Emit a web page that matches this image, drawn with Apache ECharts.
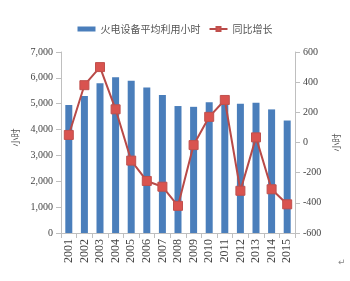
<!DOCTYPE html>
<html>
<head>
<meta charset="utf-8">
<script src="https://cdn.jsdelivr.net/npm/echarts@6/dist/echarts.min.js"></script>
<style>
  html, body { margin: 0; padding: 0; background: #fff; }
  #chart { width: 350px; height: 281px; }
</style>
</head>
<body>
<div id="chart"></div>
<script>
const years = ["2001", "2002", "2003", "2004", "2005", "2006", "2007", "2008",
  "2009", "2010", "2011", "2012", "2013", "2014", "2015"];
const hours = [4950, 5300, 5790, 6020, 5890, 5630, 5340, 4910, 4880, 5060, 5290, 5000, 5040, 4780, 4350];
const growth = [50, 380, 500, 220, -120, -255, -293, -420, -17, 170, 282, -320, 34, -310, -410];
const leftTicks = [0, 7000];
const rightTicks = [-600, 600];

const serif = "Liberation Serif";
const cjk = "Noto Sans CJK SC";

const chart = echarts.init(document.getElementById("chart"));
const option = {
  animation: false,
  backgroundColor: "#fff",
  legend: {
    top: 19,
    left: "center",
    itemGap: 8,
    itemWidth: 18,
    itemHeight: 5,
    textStyle: { fontFamily: cjk, fontSize: 10, color: "#555" },
    data: [
      { name: "火电设备平均利用小时", icon: "rect" },
      { name: "同比增长" }
    ]
  },
  grid: { left: 61, right: 55, top: 52, bottom: 48 },
  xAxis: {
    type: "category",
    data: years,
    axisLine: { lineStyle: { color: "#bfbfbf" } },
    axisTick: { show: true, lineStyle: { color: "#bfbfbf" } },
    axisLabel: {
      rotate: 90,
      interval: 0,
      fontFamily: serif,
      fontSize: 12,
      color: "#444",
      margin: 6
    }
  },
  yAxis: [
    {
      type: "value",
      min: leftTicks[0],
      max: leftTicks[1],
      interval: 1000,
      name: "小时",
      nameLocation: "middle",
      nameGap: 28,
      nameRotate: 90,
      nameTextStyle: { fontFamily: cjk, fontSize: 9, color: "#555", padding: [0, 0, 0, 10] },
      axisLine: { show: true, lineStyle: { color: "#bfbfbf" } },
      axisTick: { show: true, lineStyle: { color: "#bfbfbf" } },
      splitLine: { show: false },
      axisLabel: {
        fontFamily: serif,
        fontSize: 10,
        color: "#444",
        formatter: v => v.toLocaleString("en-US")
      }
    },
    {
      type: "value",
      min: rightTicks[0],
      max: rightTicks[1],
      interval: 200,
      name: "小时",
      nameLocation: "middle",
      nameGap: 26,
      nameRotate: 90,
      nameTextStyle: { fontFamily: cjk, fontSize: 9, color: "#555" },
      axisLine: { show: true, lineStyle: { color: "#bfbfbf" } },
      axisTick: { show: true, lineStyle: { color: "#bfbfbf" } },
      splitLine: { show: false },
      axisLabel: { fontFamily: serif, fontSize: 10, color: "#444" }
    }
  ],
  series: [
    {
      name: "火电设备平均利用小时",
      type: "bar",
      yAxisIndex: 0,
      data: hours,
      barWidth: 7,
      itemStyle: { color: "#4a7ebb" }
    },
    {
      name: "同比增长",
      type: "line",
      yAxisIndex: 1,
      data: growth,
      symbol: "rect",
      symbolSize: 9,
      lineStyle: { color: "#b84a48", width: 2 },
      itemStyle: { color: "#d9534f", borderColor: "#c0504d", borderWidth: 1 }
    }
  ],
  graphic: [
    {
      type: "text",
      left: 338,
      top: 258,
      style: { text: "↵", fontSize: 9, fill: "#888", fontFamily: "DejaVu Sans" }
    }
  ]
};
chart.setOption(option);
</script>
</body>
</html>
